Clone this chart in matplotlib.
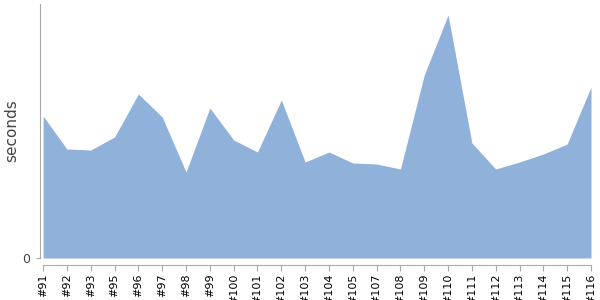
import numpy as np
import matplotlib.pyplot as plt

# build numbers and time per build (seconds)
builds = ['#91', '#92', '#93', '#95', '#96', '#97', '#98', '#99', '#100', '#101',
          '#102', '#103', '#104', '#105', '#107', '#108', '#109', '#110', '#111',
          '#112', '#113', '#114', '#115', '#116']
seconds = [14.2, 10.9, 10.8, 12.1, 16.4, 14.1, 8.6, 15.0, 11.8, 10.6,
           15.8, 9.6, 10.6, 9.5, 9.4, 8.9, 18.3, 24.3, 11.5,
           8.9, 9.6, 10.4, 11.4, 17.1]

fill_color = '#8fb1da'
axis_color = '#aaaaaa'

fig = plt.figure(figsize=(6, 3), dpi=100)
ax = fig.add_axes([40 / 600, 42 / 300, 551 / 600, 254 / 300])

x = np.arange(len(builds))
ax.fill_between(x, 0, seconds, color=fill_color, linewidth=0)

ax.set_xlim(-0.13, len(builds) - 1)
ax.set_ylim(0, 25.4)

ax.spines['top'].set_visible(False)
ax.spines['right'].set_visible(False)
ax.spines['left'].set_color(axis_color)
ax.spines['bottom'].set_color(axis_color)
ax.spines['bottom'].set_position(('outward', 5))
ax.spines['bottom'].set_bounds(0, len(builds) - 1)

ax.set_xticks(x)
ax.set_xticklabels(builds, rotation=90, fontsize=8, color='black')
ax.tick_params(axis='x', length=4, color=axis_color, pad=2)

ax.set_yticks([0])
ax.set_yticklabels(['0'], fontsize=9, color='#444444')
ax.tick_params(axis='y', length=3, color=axis_color, pad=4)

ax.set_ylabel('seconds', fontsize=11, color='#444444')
ax.yaxis.set_label_coords(-0.037, 0.5)

fig.savefig('out.png', dpi=100)
